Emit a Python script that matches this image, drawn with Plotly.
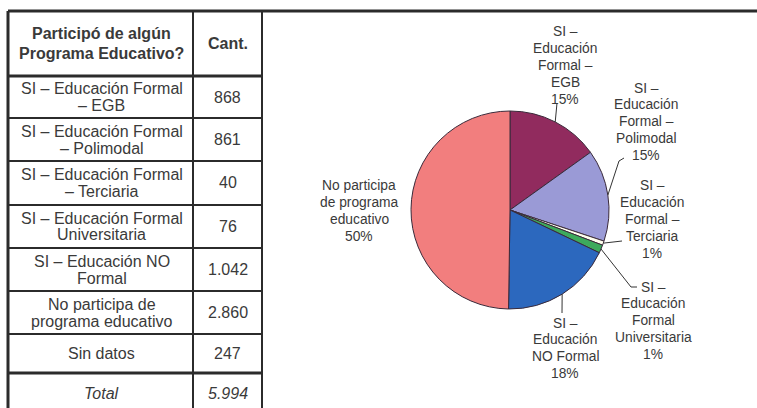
import math
import plotly.graph_objects as go

# ---------------- data ----------------
table_header = ["Participó de algún<br>Programa Educativo?", "Cant."]
table_labels = [
    "SI – Educación Formal<br>– EGB",
    "SI – Educación Formal<br>– Polimodal",
    "SI – Educación Formal<br>– Terciaria",
    "SI – Educación Formal<br>Universitaria",
    "SI – Educación NO<br>Formal",
    "No participa de<br>programa educativo",
    "Sin datos",
]
table_counts = [868, 861, 40, 76, 1042, 2860, 247]
total_label = "Total"

pie_labels = [
    "SI –<br>Educación<br>Formal –<br>EGB",
    "SI –<br>Educación<br>Formal –<br>Polimodal",
    "SI –<br>Educación<br>Formal –<br>Terciaria",
    "SI –<br>Educación<br>Formal<br>Universitaria",
    "SI –<br>Educación<br>NO Formal",
    "No participa<br>de programa<br>educativo",
]
pie_values = table_counts[:6]

# ---------------- style / layout ----------------
W, H = 757, 408
TEXT = "#3a3a3a"
LINE = "#2b2b2b"
FONT = "Liberation Sans, Arial, sans-serif"
pie_colors = ["#912B5E", "#9A9AD6", "#FFFFEE", "#3DAA5C", "#2C68BE", "#F27E7E"]

CX, CY, R = 510, 210, 99  # pie centre / radius in pixels
# label block centre x, first-line y (px), and leader polyline end points (px)
label_pos = [(565, 32), (646, 88), (652, 186), (653, 287), (565, 323), (359, 186)]
leader_pts = [
    [(557, 103)],
    [(619, 161), (624, 158)],
    [(622, 241)],
    [(631, 287), (637, 287)],
    [(562, 313)],
    None,
]
PIE_FS, PIE_LH = 13.8, 16.8

col_x = [8, 193, 262]
row_y = [11, 76, 118, 161, 205, 248, 291, 334, 373, 412]
TAB_FS, TAB_LH = 16, 17


def px(x):
    return x / W


def py(y):
    return 1 - y / H


def fmt(v):
    return f"{v:,}".replace(",", ".")


annotations = []
shapes = []


def add_text(text, cx, cy, size, lh, bold=False, italic=False, first_line=False):
    lines = text.split("<br>")
    n = len(lines)
    for i, ln in enumerate(lines):
        if first_line:
            y = cy + i * lh
        else:
            y = cy + (i - (n - 1) / 2) * lh
        t = ln
        if bold:
            t = f"<b>{t}</b>"
        if italic:
            t = f"<i>{t}</i>"
        annotations.append(dict(
            x=px(cx), y=py(y), xref="paper", yref="paper", text=t,
            showarrow=False, xanchor="center", yanchor="middle",
            font=dict(family=FONT, size=size, color=TEXT),
        ))


def add_line(x0, y0, x1, y1, w, color=LINE):
    shapes.append(dict(type="line", xref="paper", yref="paper",
                       x0=px(x0), y0=py(y0), x1=px(x1), y1=py(y1),
                       line=dict(color=color, width=w)))


# ---------------- table ----------------
c1 = (col_x[0] + col_x[1]) / 2 + 1
c2 = (col_x[1] + col_x[2]) / 2
hy = (row_y[0] + row_y[1]) / 2
add_text(table_header[0], c1, hy, TAB_FS, 21, bold=True)
add_text(table_header[1], c2, hy, TAB_FS, 21, bold=True)
for i, (lab, v) in enumerate(zip(table_labels, table_counts)):
    yc = (row_y[i + 1] + row_y[i + 2]) / 2
    add_text(lab, c1, yc, TAB_FS, TAB_LH)
    add_text(fmt(v), c2, yc, TAB_FS, TAB_LH)
yt = 393
add_text(total_label, c1, yt, TAB_FS, TAB_LH, italic=True)
add_text(fmt(sum(table_counts)), c2, yt, TAB_FS, TAB_LH, italic=True)

# grid lines
add_line(col_x[0], row_y[0], W, row_y[0], 3)
add_line(col_x[0], row_y[0], col_x[0], H, 3)
add_line(col_x[1], row_y[0], col_x[1], H, 2)
add_line(col_x[2], row_y[0], col_x[2], H, 2)
for k, y in enumerate(row_y[1:9]):
    add_line(col_x[0], y, col_x[2], y, 3 if k in (0, 7) else 2)

# ---------------- pie ----------------
tot = sum(pie_values)
pcts = [round(v / tot * 100) for v in pie_values]

fig = go.Figure(go.Pie(
    values=pie_values, labels=[l.replace("<br>", " ") for l in pie_labels],
    sort=False, direction="clockwise", rotation=0,
    marker=dict(colors=pie_colors, line=dict(color="#3a2a3a", width=1)),
    textinfo="none", hoverinfo="label+value+percent", showlegend=False,
    domain=dict(x=[px(CX - R), px(CX + R)], y=[py(CY + R), py(CY - R)]),
))

cum = 0
for i, v in enumerate(pie_values):
    mid = (cum + v / 2) / tot
    cum += v
    ang = math.radians(90 - 360 * mid)
    ex, ey = CX + R * math.cos(ang), CY - R * math.sin(ang)
    lx, ly = label_pos[i]
    add_text(pie_labels[i] + f"<br>{pcts[i]}%", lx, ly, PIE_FS, PIE_LH, first_line=True)
    if leader_pts[i]:
        pts = [(ex, ey)] + leader_pts[i]
        for (a, b), (c, d) in zip(pts[:-1], pts[1:]):
            add_line(a, b, c, d, 1, color="#333333")

fig.update_layout(
    width=W, height=H, margin=dict(l=0, r=0, t=0, b=0),
    paper_bgcolor="white", plot_bgcolor="white",
    annotations=annotations, shapes=shapes,
)
fig.write_html("out.html")
